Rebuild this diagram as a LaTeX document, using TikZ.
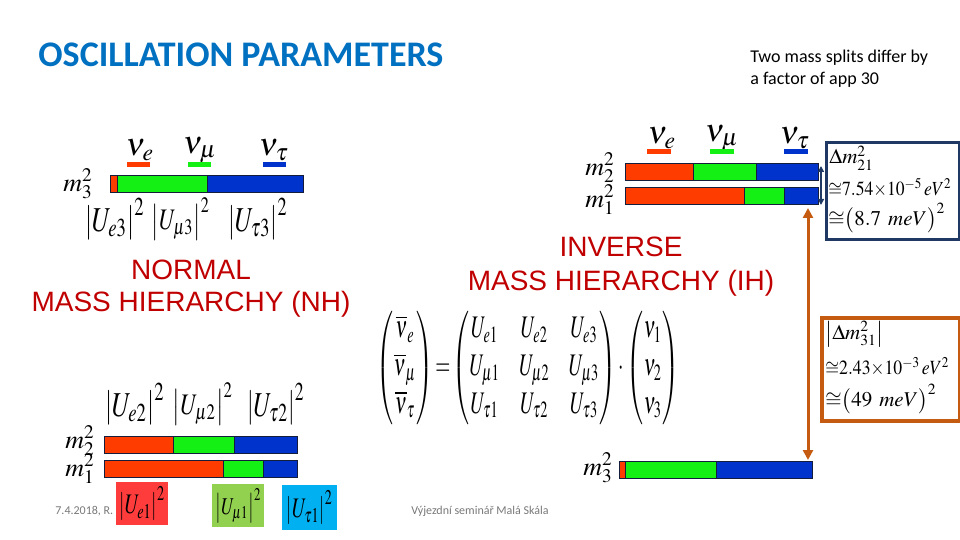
\documentclass[tikz,border=0pt]{standalone}
\usepackage{amsmath}
\usepackage{mathptmx}
\usepackage[no-math]{fontspec}
\usepackage{xcolor}
\usepackage{tikz}
\usetikzlibrary{arrows.meta, positioning, calc}
\newfontfamily\calibri{Carlito}
\newfontfamily\arial{Liberation Sans}
\definecolor{TitleBlue}{RGB}{0, 112, 192}
\definecolor{HierRed}{RGB}{192, 0, 0}
\definecolor{NuRed}{RGB}{255, 60, 0}
\definecolor{NuGreen}{RGB}{20, 240, 20}
\definecolor{NuBlue}{RGB}{0, 51, 204}
\definecolor{BarLine}{RGB}{20, 30, 60}
\definecolor{SplitNavy}{RGB}{31, 56, 100}
\definecolor{SplitOrange}{RGB}{197, 90, 17}
\definecolor{BoxRed}{RGB}{255, 60, 60}
\definecolor{BoxGreen}{RGB}{146, 208, 80}
\definecolor{BoxBlue}{RGB}{0, 176, 240}
\definecolor{FootGray}{RGB}{120, 120, 120}

% segmented bar: x-left, y-top, end of red, end of green, x-right
\newcommand{\massbar}[5]{%
  \fill[NuRed] (#1,#2) rectangle (#3,#2+17);
  \fill[NuGreen] (#3,#2) rectangle (#4,#2+17);
  \fill[NuBlue] (#4,#2) rectangle (#5,#2+17);
  \draw[barline] (#3,#2) -- (#3,#2+17) (#4,#2) -- (#4,#2+17);
  \draw[barline] (#1,#2) rectangle (#5,#2+17);
}
% squared mixing element, stretched like the slide's equation images
\newcommand{\mixsq}[3]{\resizebox*{#2}{#3}{$\left|U_{#1}\right|^{2}$}}

\begin{document}
\begin{tikzpicture}[
    x=0.5pt, y=-0.5pt,
    barline/.style={draw=BarLine, line width=0.5pt},
    flavour/.style={inner sep=0pt, font=\fontsize{16}{19}\selectfont},
    masslbl/.style={inner sep=0pt, font=\fontsize{13}{15}\selectfont},
    mixlbl/.style={inner sep=0pt},
    hier/.style={align=center, inner sep=0pt, text=HierRed},
    splitbox/.style={draw=#1, fill=white, anchor=north west, inner sep=0pt},
    splittxt/.style={anchor=west, inner sep=0pt, font=\fontsize{10.5}{12}\selectfont},
    colbox/.style={fill=#1, anchor=north west, inner sep=0pt},
    foot/.style={inner sep=0pt, text=FootGray, font=\calibri\fontsize{6}{7}\selectfont}
  ]
  \useasboundingbox (0,0) rectangle (960,540);

  % heading
  \node[anchor=west, inner sep=0pt, text=TitleBlue,
        font=\calibri\bfseries\fontsize{18}{20}\selectfont] (title) at (38,55) {OSCILLATION PARAMETERS};
  \node[anchor=west, align=left, inner sep=0pt,
        font=\calibri\fontsize{9}{11}\selectfont] (splitnote) at (750,69) {Two mass splits differ by\\a factor of app 30};

  % ---- normal hierarchy ----
  \node[flavour] (nhnue) at (140,150) {$\nu_e$};
  \node[flavour] (nhnumu) at (200,150) {$\nu_\mu$};
  \node[flavour] (nhnutau) at (274,150) {$\nu_\tau$};
  \foreach \x/\c in {127/NuRed, 188/NuGreen, 263/NuBlue}
    \fill[\c] (\x,162) rectangle ++(23,5);

  \node[masslbl] (nhm3) at (78,184) {$m_3^2$};
  \massbar{110}{176}{117}{207}{303}
  \node[mixlbl] (nhue3) at (115,219) {\mixsq{e3}{30pt}{21pt}};
  \node[mixlbl] (nhum3) at (181,219) {\mixsq{\mu3}{29pt}{21pt}};
  \node[mixlbl] (nhut3) at (258,219) {\mixsq{\tau3}{30pt}{21pt}};

  \node[hier, font=\arial\fontsize{14}{16}\selectfont] (nhtitle) at (191,289) {NORMAL\\MASS HIERARCHY (NH)};

  \node[mixlbl] (nhue2) at (135,404) {\mixsq{e2}{30pt}{21pt}};
  \node[mixlbl] (nhum2) at (203,404) {\mixsq{\mu2}{30pt}{21pt}};
  \node[mixlbl] (nhut2) at (276,404) {\mixsq{\tau2}{29pt}{21pt}};
  \node[masslbl] (nhm2) at (80,441) {$m_2^2$};
  \massbar{104}{436}{173}{234}{297}
  \node[masslbl] (nhm1) at (80,469) {$m_1^2$};
  \massbar{104}{460}{223}{263}{297}

  \node[foot, anchor=west] (footdate) at (55,511) {7.4.2018, R.};
  \node[colbox=BoxRed, minimum width=26pt, minimum height=21.5pt] (boxe1) at (116,482) {};
  \node[colbox=BoxGreen, minimum width=26pt, minimum height=21.5pt] (boxm1) at (212,484) {};
  \node[colbox=BoxBlue, minimum width=27.5pt, minimum height=22.5pt] (boxt1) at (282,485) {};
  \node[mixlbl] (nhue1) at (boxe1.center) {\mixsq{e1}{23pt}{17pt}};
  \node[mixlbl] (nhum1) at (boxm1.center) {\mixsq{\mu1}{23pt}{17pt}};
  \node[mixlbl] (nhut1) at (boxt1.center) {\mixsq{\tau1}{23pt}{17pt}};

  % ---- mixing matrix ----
  \node[inner sep=0pt] (mixing) at (528,368) {%
    \resizebox*{151pt}{56.5pt}{\setlength{\arraycolsep}{5pt}%
    $\begin{pmatrix}\overline{\nu}_e\\ \overline{\nu}_\mu\\ \overline{\nu}_\tau\end{pmatrix}
    \!=\!\begin{pmatrix}U_{e1} & U_{e2} & U_{e3}\\ U_{\mu1} & U_{\mu2} & U_{\mu3}\\ U_{\tau1} & U_{\tau2} & U_{\tau3}\end{pmatrix}
    \cdot\begin{pmatrix}\nu_1\\ \nu_2\\ \nu_3\end{pmatrix}$}};

  % ---- inverse hierarchy ----
  \node[hier, font=\arial\fontsize{14}{17}\selectfont] (ihtitle) at (621,267) {INVERSE\\MASS HIERARCHY (IH)};

  \node[flavour] (ihnue) at (662,138) {$\nu_e$};
  \node[flavour] (ihnumu) at (722,138) {$\nu_\mu$};
  \node[flavour] (ihnutau) at (795,138) {$\nu_\tau$};
  \foreach \x/\c in {647/NuRed, 710/NuGreen, 784/NuBlue}
    \fill[\c] (\x,149) rectangle ++(24,5);

  \node[masslbl] (ihm2) at (600,168) {$m_2^2$};
  \massbar{625}{164}{693}{756}{818}
  \node[masslbl] (ihm1) at (600,200) {$m_1^2$};
  \massbar{625}{188}{744}{784}{818}
  \node[masslbl] (ihm3) at (598,468) {$m_3^2$};
  \massbar{619}{461}{625}{716}{812}

  % splits
  \node[splitbox=SplitNavy, line width=1.5pt, minimum width=66.5pt, minimum height=48.5pt] (dm21box) at (825,141) {};
  \node[splittxt] (dm21a) at (829,158) {$\Delta m_{21}^2$};
  \node[splittxt] (dm21b) at (828,188) {\resizebox*{61.5pt}{9.5pt}{${\cong}7.54{\times}10^{-5}\,eV^2$}};
  \node[splittxt] (dm21c) at (828,218) {${\cong}\bigl(8.7\ meV\bigr)^2$};

  \node[splitbox=SplitOrange, line width=2pt, minimum width=69pt, minimum height=51.5pt] (dm31box) at (820,316) {};
  \node[splittxt] (dm31a) at (825,334) {$\bigl|\Delta m_{31}^2\bigr|$};
  \node[splittxt] (dm31b) at (825,367) {\resizebox*{62pt}{9.5pt}{${\cong}2.43{\times}10^{-3}\,eV^2$}};
  \node[splittxt] (dm31c) at (825,399) {${\cong}\bigl(49\ meV\bigr)^2$};

  \coordinate (ih2top) at (821,166);
  \coordinate (ih1bot) at (821,205);
  \draw[SplitNavy, line width=1pt, {Triangle[length=3pt,width=3pt]}-{Triangle[length=3pt,width=3pt]}] (ih2top) -- (ih1bot);
  \coordinate (ih1low) at (808,208);
  \coordinate (ih3up) at (808,460);
  \draw[SplitOrange, line width=1.5pt, {Triangle[length=5pt,width=5pt]}-{Triangle[length=5pt,width=5pt]}] (ih1low) -- (ih3up);

  \node[foot] (footseminar) at (480,511) {Výjezdní seminář Malá Skála};
\end{tikzpicture}
\end{document}
